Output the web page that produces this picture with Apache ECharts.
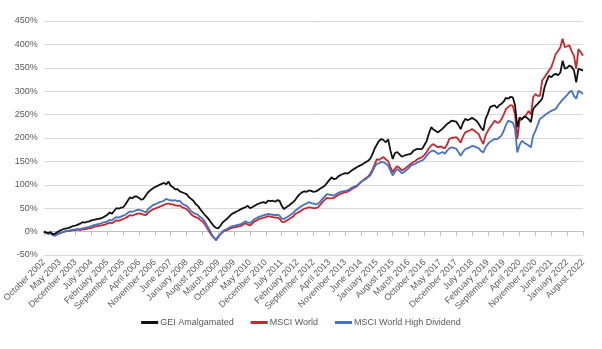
<!DOCTYPE html>
<html>
<head>
<meta charset="utf-8">
<script src="https://cdn.jsdelivr.net/npm/echarts@6/dist/echarts.min.js"></script>
<style>html,body{margin:0;padding:0;background:#fff;}#c{width:602px;height:349px;}</style>
</head>
<body>
<div id="c"></div>
<script>
const monthNames = ['January','February','March','April','May','June','July','August','September','October','November','December'];
// Monthly categories October 2002 .. August 2022
const categories = [];
for (let y = 2002, m = 9; y < 2022 || (y === 2022 && m <= 7); ) {
  categories.push(monthNames[m] + ' ' + y);
  m++; if (m > 11) { m = 0; y++; }
}
const tickLabels = ['October 2002','May 2003','December 2003','July 2004','February 2005','September 2005','April 2006','November 2006','June 2007','January 2008','August 2008','March 2009','October 2009','May 2010','December 2010','July 2011','February 2012','September 2012','April 2013','November 2013','June 2014','January 2015','August 2015','March 2016','October 2016','May 2017','December 2017','July 2018','February 2019','September 2019','April 2020','November 2020','June 2021','January 2022','August 2022'];
const yTicks = [-50, 0, 50, 100, 150, 200, 250, 300, 350, 400, 450];

const gei = [
0,-2,-3,-1,-6,-4,-1,2,4,6,7,8,
10,12,13,15,17,20,19,21,22,24,25,26,
27,28,30,33,36,41,38,44,50,49,51,52,
58,66,73,71,75,75,72,68,70,77,84,88,
92,95,97,100,102,104,101,107,98,95,90,91,
86,84,82,80,74,70,66,59,55,48,42,36,
31,25,18,12,8,7,13,20,24,28,33,38,
40,43,45,48,50,52,55,50,52,55,58,60,
62,63,61,66,65,66,64,67,66,55,48,52,
55,59,63,68,75,80,84,86,85,88,87,85,
86,88,92,95,98,104,110,116,112,113,118,121,
123,125,124,127,131,134,137,140,142,145,148,151,
155,165,177,186,194,198,195,191,197,173,155,168,
170,165,160,162,164,165,166,172,175,177,176,177,
185,194,210,223,218,215,212,216,220,225,230,233,
237,236,235,228,219,232,241,238,240,243,240,237,
230,222,216,241,252,266,268,270,264,270,273,278,
286,284,288,287,270,223,244,240,246,244,240,234,
262,268,273,278,284,308,322,333,330,335,337,334,
340,365,348,350,355,352,345,319,348,346,344];

const msciWorld = [
0,-2,-4,-3,-6,-7,-5,-3,-2,0,1,1,
2,3,3,4,3,5,5,6,7,8,10,11,
12,13,14,15,17,19,18,21,24,23,25,27,
29,32,35,34,36,38,39,38,36,35,40,44,
47,49,51,53,55,57,59,60,58,58,56,55,
56,52,50,48,43,37,33,31,29,25,22,16,
8,0,-8,-13,-17,-10,-5,-1,2,3,6,8,
9,10,11,12,15,18,15,13,17,22,24,27,
28,30,31,33,32,31,30,30,28,21,20,23,
26,29,32,38,40,43,46,49,50,52,51,50,
50,52,57,63,68,72,71,71,72,75,78,81,
82,84,85,88,91,94,96,101,106,110,114,117,
123,132,143,155,153,157,159,154,150,138,127,135,
140,136,131,133,137,141,145,148,151,155,157,159,
164,170,178,184,187,183,180,182,180,178,186,198,
200,201,202,197,190,203,212,214,216,219,216,212,
208,196,187,206,215,223,230,237,233,233,240,250,
262,266,270,269,250,198,237,240,244,250,258,250,
287,294,290,290,323,330,337,344,351,365,380,386,
394,412,394,396,398,385,376,348,390,383,376];

const msciHighDiv = [
0,-3,-5,-4,-8,-9,-6,-3,-2,0,1,2,
3,4,5,6,5,7,8,9,10,12,14,15,
16,17,19,20,22,25,24,28,31,30,32,34,
36,40,43,42,44,46,47,45,43,41,48,52,
56,58,60,63,64,66,70,68,67,66,67,65,
66,60,57,55,50,44,40,38,36,31,28,22,
13,5,-5,-12,-19,-12,-5,1,4,6,9,11,
12,14,15,16,19,22,20,18,22,27,29,32,
33,35,36,38,37,36,35,36,34,28,27,30,
33,36,40,45,48,52,55,58,60,63,61,60,
58,59,64,70,75,80,79,78,77,80,83,85,
86,87,88,91,94,96,98,102,106,109,112,116,
120,128,138,145,146,149,148,145,141,130,120,128,
134,130,125,127,131,135,141,143,145,148,150,152,
156,162,168,172,173,170,166,168,170,166,173,178,
180,179,177,170,162,170,176,178,180,183,182,180,
178,172,169,180,187,192,195,198,197,201,205,215,
228,237,235,233,220,169,185,194,190,187,184,180,
205,215,228,241,244,248,252,255,258,260,262,270,
276,282,287,292,298,301,290,284,301,298,294];

const txt = '#595959';
const font = 'Liberation Sans, Arial, sans-serif';
const chart = echarts.init(document.getElementById('c'), null, {renderer: 'canvas'});
function mk(name, data, color) {
  return {name, type: 'line', data, xAxisIndex: 0, showSymbol: false, symbol: 'none',
    lineStyle: {color, width: 1.8}, itemStyle: {color}, animation: false};
}
chart.setOption({
  animation: false,
  backgroundColor: '#fff',
  grid: {left: 38, right: 19, top: 21, bottom: 94, containLabel: false},
  legend: {
    bottom: 17, left: 'center', itemWidth: 17, itemHeight: 3, itemGap: 17, icon: 'rect',
    textStyle: {color: txt, fontSize: 9, fontFamily: font, padding: [0, 0, 0, -3]},
    data: ['GEI Amalgamated', 'MSCI World', 'MSCI World High Dividend']
  },
  xAxis: [
    {type: 'category', data: categories, boundaryGap: false, position: 'bottom',
     axisLine: {show: false, onZero: false}, axisTick: {show: false},
     axisLabel: {interval: 6, rotate: 45, color: txt, fontSize: 9, fontFamily: font, margin: 6,
       formatter: v => tickLabels.includes(v) ? v : ''}},
    {type: 'category', data: categories, boundaryGap: false, position: 'bottom',
     axisLine: {show: true, onZero: true, lineStyle: {color: '#bfbfbf', width: 1}},
     axisTick: {show: true, interval: 6, length: 4, lineStyle: {color: '#bfbfbf'}},
     axisLabel: {show: false}}
  ],
  yAxis: {type: 'value', min: yTicks[0], max: yTicks[yTicks.length - 1], interval: 50,
    axisLine: {show: false}, axisTick: {show: false},
    splitLine: {lineStyle: {color: '#d9d9d9', width: 1}},
    axisLabel: {color: txt, fontSize: 9, fontFamily: font, margin: 6, formatter: v => v + '%'}},
  series: [
    mk('MSCI World', msciWorld, '#c8282d'),
    mk('MSCI World High Dividend', msciHighDiv, '#4472c4'),
    mk('GEI Amalgamated', gei, '#111111')
  ]
});
</script>
</body>
</html>
